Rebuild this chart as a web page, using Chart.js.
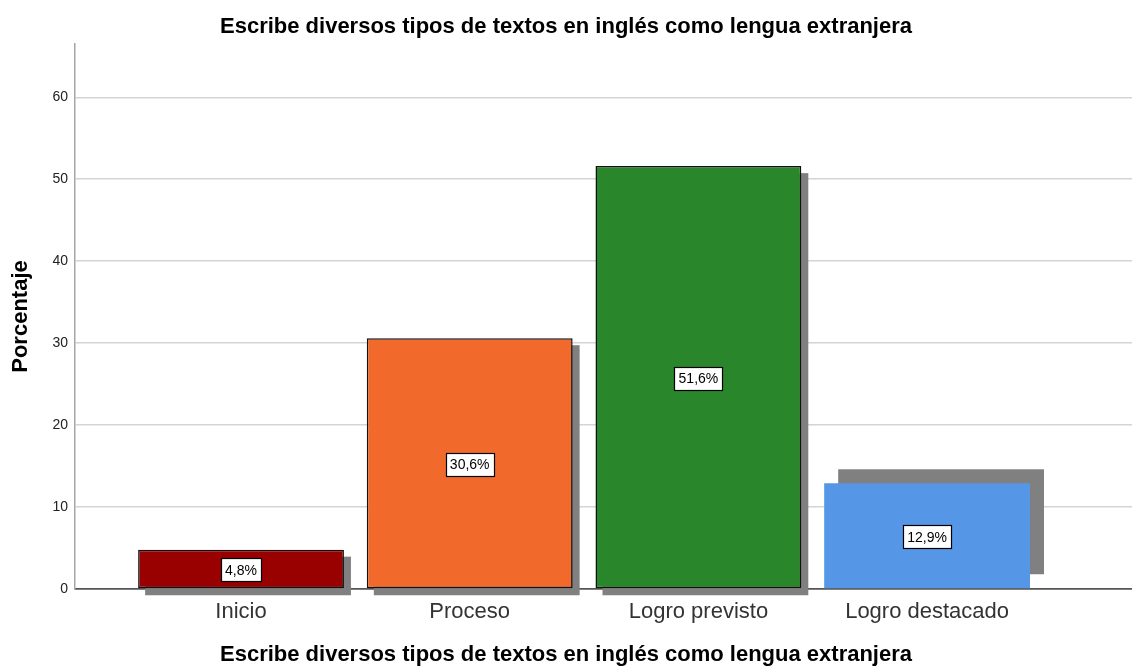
<!DOCTYPE html>
<html>
<head>
<meta charset="utf-8">
<script src="https://cdn.jsdelivr.net/npm/chart.js@4"></script>
<style>
  html, body { margin: 0; padding: 0; background: #ffffff; }
  #wrap { width: 1132px; height: 666px; position: relative; }
</style>
</head>
<body>
<div id="wrap"><canvas id="c"></canvas></div>
<script>
const chartTitle = 'Escribe diversos tipos de textos en inglés como lengua extranjera';
const categories = ['Inicio', 'Proceso', 'Logro previsto', 'Logro destacado'];
const percentages = [4.8, 30.6, 51.6, 12.9];
const yTicks = [0, 10, 20, 30, 40, 50, 60];
const barColors = ['#990000', '#F2692C', '#2A862A', '#5596E6'];
const barBorders = [1.5, 1.5, 1.5, 0];
const shadowOffsets = [[7, 7], [7, 7], [7, 7], [14, -14]];

const fmt = v => v.toFixed(1).replace('.', ',') + '%';

const shadowPlugin = {
  id: 'shadows',
  beforeDatasetsDraw(chart) {
    const meta = chart.getDatasetMeta(0);
    const ctx = chart.ctx;
    ctx.save();
    ctx.fillStyle = '#808080';
    meta.data.forEach((bar, i) => {
      const p = bar.getProps(['x', 'y', 'width', 'base'], true);
      const [dx, dy] = shadowOffsets[i];
      ctx.fillRect(p.x - p.width / 2 + dx, p.y + dy, p.width, p.base - p.y);
    });
    ctx.restore();
  }
};

const labelPlugin = {
  id: 'valueLabels',
  afterDatasetsDraw(chart) {
    const meta = chart.getDatasetMeta(0);
    const ctx = chart.ctx;
    ctx.save();
    ctx.font = '14px "Liberation Sans", Arial, sans-serif';
    ctx.textAlign = 'center';
    ctx.textBaseline = 'middle';
    meta.data.forEach((bar, i) => {
      const p = bar.getProps(['x', 'y', 'base'], true);
      const txt = fmt(percentages[i]);
      const w = Math.round(ctx.measureText(txt).width + 8);
      const h = 23;
      const cy = (p.y + p.base) / 2 + 1;
      const x0 = Math.round(p.x - w / 2) + 0.5;
      const y0 = Math.round(cy - h / 2) + 0.5;
      ctx.fillStyle = '#ffffff';
      ctx.fillRect(x0, y0, w, h);
      ctx.strokeStyle = '#000000';
      ctx.lineWidth = 1.2;
      ctx.strokeRect(x0, y0, w, h);
      ctx.fillStyle = '#000000';
      ctx.fillText(txt, p.x, cy + 1);
    });
    ctx.restore();
  }
};

new Chart(document.getElementById('c'), {
  type: 'bar',
  data: {
    datasets: [{
      data: categories.map((c, i) => ({ x: i, y: percentages[i] })),
      backgroundColor: barColors,
      borderColor: '#111111',
      borderWidth: barBorders,
      borderSkipped: false,
      categoryPercentage: 0.9,
      barPercentage: 1.0
    }]
  },
  options: {
    responsive: true,
    maintainAspectRatio: false,
    animation: false,
    layout: { padding: 0 },
    plugins: {
      legend: { display: false },
      tooltip: { enabled: false },
      title: {
        display: true,
        text: chartTitle,
        color: '#000000',
        font: { family: '"Liberation Sans", Arial, sans-serif', size: 22, weight: 'bold', lineHeight: 1.2 },
        padding: { top: 13.8, bottom: 3.8 }
      },
      subtitle: {
        display: true,
        position: 'bottom',
        text: chartTitle,
        color: '#000000',
        font: { family: '"Liberation Sans", Arial, sans-serif', size: 22, weight: 'bold', lineHeight: 1.0 },
        padding: { top: 0, bottom: 0 }
      }
    },
    scales: {
      x: {
        type: 'linear',
        offset: false,
        min: -0.726,
        max: 3.896,
        grid: { display: false, drawTicks: false, offset: false },
        border: { display: true, color: '#555555', width: 1.5 },
        afterBuildTicks(scale) { scale.ticks = categories.map((c, i) => ({ value: i })); },
        ticks: {
          autoSkip: false,
          maxRotation: 0,
          padding: 10,
          color: '#333333',
          font: { family: '"Liberation Sans", Arial, sans-serif', size: 22 },
          callback: v => categories[v] !== undefined ? categories[v] : ''
        },
        afterFit(scale) { scale.height = 55; }
      },
      y: {
        min: 0,
        max: 66.5,
        afterBuildTicks(scale) { scale.ticks = yTicks.map(v => ({ value: v })); },
        grid: {
          drawTicks: false,
          color: ctx => (ctx.tick && ctx.tick.value === 0) ? '#555555' : '#d4d4d4',
          lineWidth: 1.5
        },
        border: { display: true, color: '#a6a6a6', width: 1.5 },
        ticks: {
          padding: 7,
          color: '#222222',
          font: { family: '"Liberation Sans", Arial, sans-serif', size: 14 }
        },
        title: {
          display: true,
          text: 'Porcentaje',
          color: '#000000',
          font: { family: '"Liberation Sans", Arial, sans-serif', size: 22, weight: 'bold', lineHeight: 1.2 },
          padding: { top: 8, bottom: 0 }
        },
        afterFit(scale) { scale.width = 75; }
      }
    }
  },
  plugins: [shadowPlugin, labelPlugin]
});
</script>
</body>
</html>
